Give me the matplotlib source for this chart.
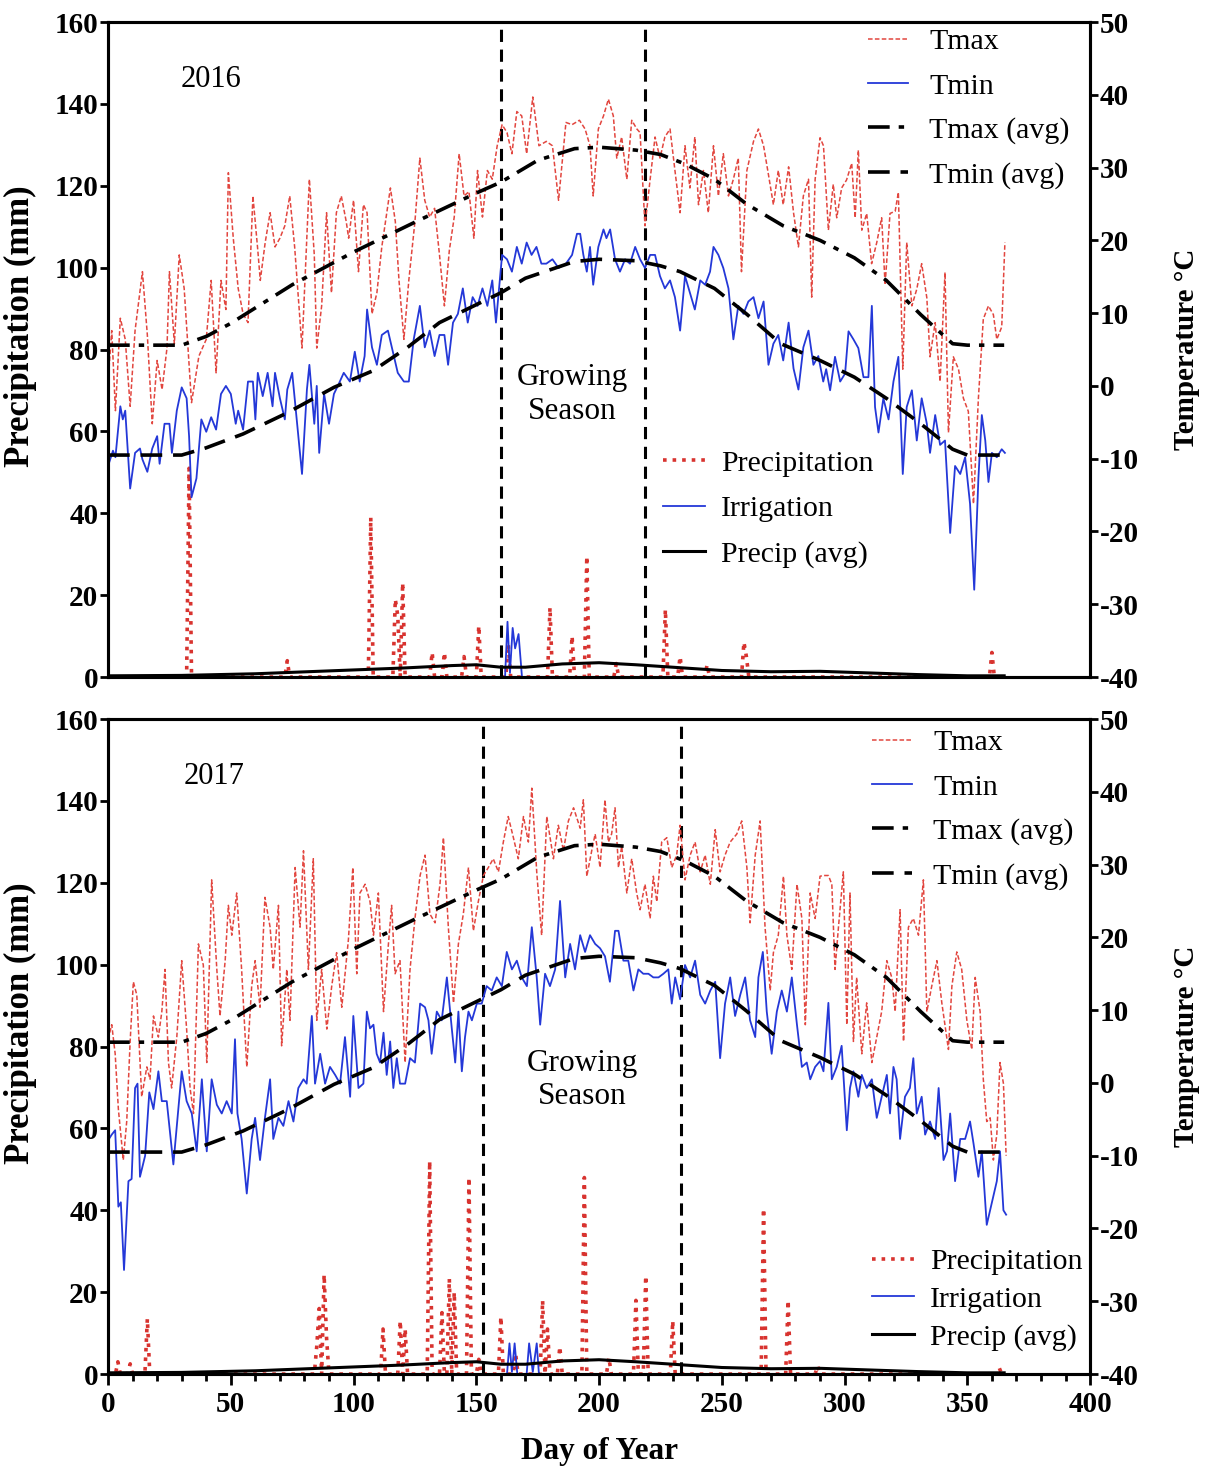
import numpy as np
import matplotlib
matplotlib.use("Agg")
import matplotlib.pyplot as plt
from matplotlib.lines import Line2D
from matplotlib.ticker import MultipleLocator

plt.rcParams['font.family'] = ['Liberation Serif', 'DejaVu Serif']
plt.rcParams['axes.unicode_minus'] = False

# ---------------- 2016 ----------------
tmax16_day = [0, 1.5, 3, 5, 7, 9, 11, 14, 16, 18, 20, 22, 24, 25, 27, 29, 31, 34, 37, 40, 42, 44, 46, 48, 49, 51, 53, 55, 57, 59,
              61, 62, 64, 66, 68, 70, 72, 74, 76, 79, 82, 84, 85, 87, 89, 91, 93, 95, 97, 98, 100, 102, 104, 105.5, 107.5,
              109.5, 111.5, 115, 117, 118.5, 120.5, 122.5, 125, 127, 129, 131, 133, 135, 137, 139, 141, 143, 145, 147, 149,
              150.5, 152.5, 154.5, 156.5, 158.5, 160.5, 162.5, 164.5, 166.5, 168.5, 170.5, 173, 175.5, 178.5, 181, 183.5,
              186.5, 189, 192, 194.3, 196.3, 197.6, 199.7, 201.8, 203.8, 205.8, 207.2, 209.2, 211.3, 213.3, 215.4, 216.7,
              218.7, 220.8, 222.8, 224.8, 226.8, 228.9, 230.9, 233, 235, 237, 239, 240.5, 242.5, 244.5, 246.6, 248.6, 250.6,
              252.7, 254.7, 256.7, 258, 260.2, 262.9, 264.9, 267, 269, 271, 273, 275, 277.2, 279.2, 281.2, 283.2, 285.3,
              286.6, 288, 290, 291.4, 293.4, 295.4, 296.8, 298.8, 300.8, 302.9, 304.3, 305.6, 307, 309, 311, 313.1, 315.1,
              316.5, 318.5, 320.6, 321.9, 323.7, 325.3, 327.4, 329.4, 331.4, 333.5, 334.8, 336.9, 338.9, 340.9, 342.3,
              344.3, 346.4, 348.4, 350.4, 352.5, 354.5, 356.5, 358.6, 360.6, 362, 364, 365.3]
tmax16 = [0.6, 7.6, -3.4, 9.3, 6.4, -2.8, 7.6, 15.7, 7.0, -5.2, 3.5, -0.5, 5.2, 15.7, 5.8, 18.0, 13.4, -2.3, 4.1, 6.4, 14.5, 1.8,
          14.5, 10.5, 29.3, 20.3, 13.4, 9.9, 8.7, 26.1, 18.6, 14.5, 19.7, 23.8, 19.1, 20.3, 22.0, 26.1, 19.1, 5.2, 28.4, 18.0,
          5.2, 11.0, 23.8, 12.8, 23.8, 26.1, 22.6, 20.3, 25.5, 15.7, 24.9, 23.8, 9.9, 12.8, 19.1, 27.2, 22.6, 14.5, 6.4, 14.5,
          22.6, 31.3, 25.5, 23.2, 24.4, 18.0, 11.0, 18.6, 23.2, 31.9, 26.1, 26.7, 20.3, 29.6, 23.2, 29.6, 28.4, 33.0, 35.9,
          34.8, 31.9, 37.7, 37.1, 31.9, 39.7, 33.0, 33.6, 33.0, 25.5, 36.2, 35.9, 36.5, 35.3, 33.0, 26.1, 35.3, 37.1, 39.4,
          37.1, 31.3, 34.2, 28.4, 36.5, 35.3, 34.8, 22.0, 28.4, 34.2, 31.3, 34.2, 35.3, 29.6, 23.8, 33.0, 27.2, 34.2, 24.9,
          29.6, 23.8, 33.0, 26.1, 31.9, 26.1, 28.4, 31.3, 15.7, 29.6, 33.6, 35.3, 33.0, 29.0, 24.9, 29.6, 24.9, 30.1, 23.8,
          19.1, 26.1, 28.4, 12.2, 28.4, 34.1, 33.0, 21.4, 27.7, 23.1, 27.2, 28.3, 30.6, 23.1, 32.4, 21.4, 23.7, 16.8, 19.7,
          23.1, 13.9, 23.7, 24.0, 26.6, 2.3, 19.7, 11.0, 13.3, 16.8, 12.1, 4.0, 8.7, 0.6, 15.6, -6.4, 4.0, 2.3, -1.7, -3.5,
          -16.2, -1.7, 9.2, 11.0, 9.8, 6.4, 8.1, 19.7]

tmin16_day = [0, 2, 3, 5, 6, 7, 9, 11, 13, 14, 16, 18, 20, 21, 23, 25, 26, 28, 30, 32, 33, 34, 36, 38, 40, 42, 44, 46, 48, 50,
              52, 53, 55, 57, 59, 60, 61, 63, 65, 67, 68, 70, 72, 73, 75, 77, 79, 81, 82, 84, 85, 86, 88, 90, 92, 94, 96,
              98.5, 100.5, 102.5, 104.5, 105.5, 107.5, 109.5, 111.5, 114, 116, 118, 120.5, 122.5, 124.5, 127, 129, 131, 133,
              135, 137, 138.5, 140.5, 142.5, 144.5, 146.5, 148.5, 150.5, 152.5, 154.5, 156.5, 158, 160.5, 162.5, 164.5,
              166.5, 168.5, 170.5, 172.5, 174.5, 176.5, 178.5, 181, 183.5, 186.5, 189, 191, 192.3, 193.6, 195, 196.3, 197.6,
              199.7, 201.8, 203, 204.5, 206.5, 208.5, 210.6, 212.6, 214.7, 216.7, 218.7, 220.8, 222.8, 224.8, 226.8, 228.9,
              230.9, 233, 235, 237, 239, 241.2, 243.2, 245.2, 246.6, 248.6, 250.6, 252.7, 254.7, 256.7, 258.8, 260.8, 262.9,
              264.9, 267, 269, 271, 273, 275, 277.2, 279.2, 281.2, 283.2, 285.3, 287.3, 289.3, 291.3, 292.5, 294.1, 296.1,
              298.2, 300.2, 301.6, 303.6, 305.6, 307.7, 309.7, 311.1, 312.4, 313.8, 315.8, 317.9, 319.9, 321.9, 323.7,
              325.3, 327.4, 329.4, 331.4, 333.5, 334.8, 336.9, 338.9, 340.9, 343, 345, 347.1, 349.1, 351.1, 352.8, 354.5,
              355.9, 357.3, 358.6, 360, 362, 364, 365.3]
tmin16 = [-11.0, -8.9, -9.8, -2.8, -4.6, -3.4, -14.1, -9.2, -8.6, -10.1, -11.8, -8.6, -6.9, -10.7, -5.2, -5.2, -9.2, -3.4, -0.2,
          -1.7, -6.9, -15.3, -12.7, -4.6, -6.3, -4.3, -6.0, -1.1, 0.0, -1.1, -5.2, -3.4, -6.0, 0.6, 0.6, -4.6, 1.8, -1.4, 1.8,
          -2.8, 1.8, -1.7, -4.6, -0.5, 1.8, -5.2, -12.1, -0.5, 2.9, -5.2, 0.0, -9.2, -1.1, -5.2, -1.1, 0.3, 1.8, 0.6, 4.7, 0.6,
          4.1, 10.5, 5.3, 2.9, 7.0, 7.6, 4.7, 1.8, 0.6, 0.6, 6.4, 11.0, 5.3, 7.6, 4.1, 7.0, 7.0, 2.9, 8.7, 9.9, 13.4, 8.7,
          12.2, 11.0, 13.4, 11.0, 14.5, 8.7, 18.0, 17.4, 15.7, 19.1, 16.8, 19.7, 18.0, 19.1, 16.8, 16.8, 17.4, 16.2, 16.8,
          18.0, 20.9, 20.9, 18.0, 15.7, 19.1, 13.9, 19.1, 21.5, 20.3, 21.5, 17.4, 15.7, 17.4, 16.8, 19.1, 17.4, 16.2, 18.0,
          18.0, 15.1, 13.4, 14.5, 12.2, 7.6, 15.1, 12.8, 10.5, 14.5, 13.9, 15.7, 19.1, 18.0, 16.2, 13.4, 6.4, 11.0, 9.9,
          11.6, 12.2, 9.3, 11.6, 2.9, 5.8, 7.0, 3.5, 8.7, 2.4, -0.5, 5.3, 7.6, 2.9, 4.1, 0.6, 2.3, -0.6, 4.0, 0.6, 1.7, 7.5,
          6.4, 5.2, 1.2, 1.2, 11.0, -2.9, -6.4, -1.7, -4.6, 0.6, 4.0, -12.1, -2.9, -0.6, -7.5, -1.7, -5.2, -9.2, -4.0, -8.1,
          -7.5, -20.2, -11.0, -12.1, -9.8, -16.2, -28.0, -12.7, -4.0, -7.5, -13.2, -9.2, -9.8, -8.7, -9.2]

precip16_day = [33, 73, 107, 117, 118, 120, 132, 137, 145, 151, 163, 180, 189, 195, 207, 227, 233, 244, 259, 260, 360]
precip16 = [51, 4, 39, 19, 15, 23, 6, 6, 5, 12.5, 8, 17, 10, 29.5, 3.3, 16.5, 5, 3, 8.5, 5, 6]

irrig16_day = [161.7, 162.7, 163.7, 164.8, 165.8, 167.2, 168.6]
irrig16 = [0, 13.5, 1, 12, 7, 10.5, 0]

season16 = [160, 218.5]

# ---------------- 2017 ----------------
tmax17_day = [0, 1.5, 2.9, 4.2, 6.2, 7.6, 9, 10.3, 11.7, 13.7, 15.8, 17.1, 18.5, 20.5, 21.9, 23.2, 24.6, 25.9, 28, 30, 32, 33.4,
              34.8, 36.8, 38.8, 40.2, 42.2, 44.3, 45.6, 47.7, 49, 50.4, 52.4, 54.4, 56.5, 58.5, 59.9, 61.9, 63.9, 66, 67.3,
              69.4, 70.7, 72.8, 74.1, 76.2, 78.2, 79.6, 81.6, 83.6, 85, 87, 89.1, 91.1, 93.1, 95.2, 97.9, 99.7, 101.3, 102.6,
              104.7, 106.7, 108.1, 110.1, 112.2, 114.2, 115.5, 116.9, 118.9, 121, 123, 125, 127.1, 129.1, 131.1, 133.2,
              135.2, 136.6, 138.6, 140.7, 142.7, 144.7, 146.8, 148.8, 150.8, 152.9, 154.9, 156.9, 159, 161, 163, 165.1,
              167.1, 169.2, 171.2, 172.6, 174.6, 176.6, 178.7, 181.4, 183.4, 185.5, 187.5, 189.6, 192.3, 193.6, 195, 197,
              198.4, 200.4, 202.4, 203.8, 205.1, 206.5, 207.9, 209.2, 211.3, 213.3, 215.3, 216.7, 218.7, 220.8, 222.1,
              223.5, 225.5, 227.6, 229.6, 231.6, 233, 235, 237.1, 239.1, 241.2, 243.2, 245.3, 247.3, 249.3, 251.3, 253.4,
              256.1, 258.1, 260.2, 261.5, 263.6, 265.6, 267.6, 269.7, 271, 273, 275.1, 276.5, 278.5, 280.6, 282.6, 284, 286,
              288, 290, 291.4, 293.4, 294.8, 296.1, 297.5, 299.5, 300.9, 302.2, 303.6, 304.9, 307, 309, 311.1, 313.1, 315.1,
              317.2, 319.2, 320.6, 322.6, 324, 326, 328, 330.1, 332.1, 333.5, 335.5, 337.6, 339.6, 342.3, 343.7, 345.7,
              347.7, 349.8, 351.8, 353.2, 355.2, 356.5, 357.9, 359.3, 360.6, 362, 363.3, 364.7, 365.8]
tmax17 = [6.0, 8.0, 4.0, -3.6, -10.6, -5.3, 5.7, 13.9, 12.1, -1.9, 2.2, 0.5, 9.2, 6.3, 9.8, 15.6, 2.8, -0.7, 6.3, 16.8, 7.4, -0.7,
          -4.2, 19.1, 16.2, 2.8, 27.9, 15.6, 9.2, 16.8, 24.4, 20.3, 26.1, 15.6, 2.2, 13.3, 16.8, 10.4, 25.5, 21.4, 15.6, 24.4,
          5.1, 15.6, 8.6, 29.6, 21.4, 31.9, 15.6, 30.8, 8.6, 15.6, 7.4, 13.3, 17.9, 10.4, 19.7, 29.6, 15.0, 26.1, 27.3, 24.9,
          20.3, 26.1, 9.8, 19.1, 24.4, 15.0, 16.8, 2.8, 15.6, 22.6, 28.5, 31.3, 23.2, 22.0, 27.3, 33.7, 21.4, 11.0, 19.1,
          23.2, 29.6, 20.9, 24.9, 28.5, 29.6, 30.8, 29.0, 33.1, 36.6, 33.7, 30.8, 36.6, 33.1, 40.5, 29.0, 20.3, 36.6, 30.8,
          35.4, 31.9, 36.0, 37.8, 35.0, 38.9, 28.4, 31.9, 34.2, 29.6, 38.9, 33.1, 34.2, 37.8, 29.6, 32.5, 26.1, 30.8, 26.1,
          23.8, 27.3, 22.6, 28.4, 24.9, 33.1, 33.7, 29.6, 31.3, 35.4, 27.9, 31.3, 33.1, 29.0, 31.3, 27.3, 34.8, 29.0, 31.3,
          33.1, 34.2, 36.0, 29.6, 22.0, 31.3, 36.0, 21.4, 12.7, 17.9, 20.3, 28.4, 20.3, 15.6, 27.3, 22.6, 8.0, 26.1, 22.6,
          28.4, 28.5, 28.5, 27.3, 15.6, 21.4, 29.0, 8.0, 26.1, 5.7, 14.5, 4.0, 11.0, 2.8, 6.3, 9.8, 16.8, 14.5, 9.8, 23.8,
          5.7, 21.4, 22.6, 20.3, 27.9, 9.8, 13.3, 16.8, 11.0, 4.6, 13.3, 18.0, 15.6, 8.6, 4.6, 14.5, 9.8, 0.5, -5.3, -4.8,
          -10.6, -7.1, 2.8, -0.1, -10.0]

tmin17_day = [0, 1.5, 2.9, 4.2, 5.2, 6.5, 8.3, 9.6, 11, 12, 13, 15.1, 16.8, 18.5, 20.5, 21.9, 23.9, 26.6, 30, 32, 34.1, 36.1,
              38.2, 40.2, 42.2, 44.3, 46.3, 48.3, 50.4, 51.7, 52.7, 54.4, 56.5, 58.5, 59.9, 61.9, 63.9, 66, 67.3, 69.4, 71.4,
              73.5, 75.5, 77.5, 79.6, 80.9, 83, 84.3, 86.4, 88.4, 90.4, 92.5, 94.5, 96.5, 98.6, 99.9, 102, 104, 105.4,
              106.7, 108.1, 109.4, 110.8, 112.2, 113.5, 114.9, 116.2, 117.6, 118.9, 121, 123, 125, 127.1, 129.1, 130.5,
              131.8, 133.9, 135.9, 138, 140, 141.4, 142.7, 144.1, 145.4, 146.8, 148.2, 150.2, 152.2, 154.2, 156.3, 158.3,
              160.4, 162.4, 164.5, 166.5, 168.5, 170.6, 172.6, 174.6, 176, 178, 180, 182.1, 184.1, 186.2, 188.2, 190.2,
              192.3, 194.3, 196.3, 198.4, 200.4, 202.4, 204.4, 206.5, 207.9, 209.9, 211.9, 214, 216, 218, 220.1, 222.1,
              224.2, 226.2, 228.2, 229.6, 231, 233, 235, 237.1, 239.1, 241.2, 243.2, 245.3, 247.3, 249.3, 251.3, 253.4,
              255.4, 257.5, 259.5, 261.5, 263.6, 264.9, 266.7, 268.3, 270.3, 272.4, 274.4, 276.5, 278.5, 280.6, 282.6,
              284.6, 286, 288, 290, 291.4, 293.4, 294.8, 296.8, 298.8, 300.9, 302.2, 303.6, 305.6, 307, 309, 311.1, 313.1,
              315.1, 317.2, 318.5, 319.9, 321.2, 322.6, 324.6, 326.6, 328, 329.4, 331.4, 332.8, 334.8, 336.9, 338.3, 340.3,
              341.7, 343, 345, 347.1, 349.1, 351.1, 352.5, 354.5, 355.9, 357.9, 360, 362, 363.3, 364.7, 365.8]
tmin17 = [-7.9, -7.1, -6.5, -17.0, -16.4, -25.7, -13.5, -13.2, -0.7, -0.1, -12.9, -10.0, -1.3, -3.6, 1.6, -2.5, -2.5, -11.2, 1.6,
          -2.5, -4.2, -9.4, 0.5, -9.4, 0.5, -3.0, -4.2, -2.5, -4.2, 6.0, -4.2, -7.7, -15.2, -7.7, -4.8, -10.6, -4.8, 0.5, -7.7,
          -4.8, -5.9, -2.5, -5.3, -0.7, 0.5, -0.1, 9.2, -0.1, 4.0, -0.1, 2.2, 1.1, -0.1, 6.3, -1.9, 9.2, -0.7, -0.1, 9.8, 7.5,
          8.0, 4.0, 2.8, 6.9, 1.1, 5.7, -0.7, 3.4, -0.1, -0.1, 3.4, 2.8, 10.9, 10.4, 8.6, 4.0, 9.8, 8.6, 14.5, 7.5, 2.8, 9.8,
          1.6, 6.3, 9.8, 8.6, 10.9, 10.9, 13.3, 12.7, 14.5, 13.3, 18.0, 15.6, 16.8, 14.5, 13.3, 21.4, 14.5, 8.0, 15.0, 13.3,
          15.6, 25.0, 14.5, 19.1, 15.6, 20.3, 18.0, 20.3, 19.1, 18.5, 17.4, 13.9, 20.9, 20.9, 16.8, 16.8, 12.7, 15.6, 15.0,
          15.0, 14.5, 14.5, 15.0, 15.6, 10.9, 14.5, 11.5, 16.2, 14.5, 16.8, 12.1, 10.9, 12.7, 13.9, 3.4, 10.9, 14.5, 9.2,
          12.1, 14.5, 8.6, 6.3, 14.5, 18.0, 9.8, 4.0, 9.8, 12.7, 9.8, 14.5, 8.0, 2.2, 2.8, 0.5, 2.2, 3.0, 1.6, 11.0, 0.5, 2.2,
          5.1, -6.5, -0.7, 1.6, -1.9, 1.1, -0.7, 0.5, -4.8, -1.9, 1.1, -4.2, 2.2, 0.5, -7.7, -1.9, -0.7, 3.4, -4.2, -1.9,
          -7.1, -5.3, -7.7, -0.7, -10.6, -9.4, -4.2, -13.5, -7.7, -7.7, -5.3, -8.3, -12.9, -9.4, -19.5, -16.4, -13.5, -9.4,
          -17.5, -18.1]

precip17_day = [4, 9, 16, 85, 86, 88, 89, 112, 119, 121, 131, 136, 139, 141, 147, 151, 160, 166, 177, 179, 184, 194, 204,
                215, 219, 230, 267, 277, 289, 363]
precip17 = [3, 2.5, 13.5, 6.7, 16, 24.3, 8.8, 11, 13, 11, 52, 15, 23.3, 20, 48, 3.6, 14, 5, 18, 11, 6.7, 48, 4, 18, 24, 13,
            40.4, 18, 2, 1.5]

irrig17_day = [162.5, 163.5, 164.5, 165.6, 166.7, 170.5, 171.5, 173, 174.6, 175.5]
irrig17 = [0, 7.5, 0.5, 7.5, 0, 0, 7.5, 0.5, 7.5, 0]

season17 = [152.7, 233.4]

# long-term averages (same curves in both panels)
tmaxavg_day = [0, 30, 40, 50, 75, 100, 125, 150, 160, 175, 190, 200, 215, 225, 235, 247, 260, 275, 290, 304, 317, 331, 344,
               350, 365]
tmaxavg = [5.6, 5.6, 6.8, 8.6, 13.9, 18.4, 22.5, 26.5, 28.0, 31.0, 32.6, 32.8, 32.4, 31.8, 30.5, 28.4, 25.0, 22.0, 20.0,
           17.6, 14.5, 9.8, 5.8, 5.6, 5.6]
tminavg_day = [0, 30, 40, 55, 73, 92, 108, 122, 135, 149, 160, 170, 190, 200, 215, 225, 233, 247, 260, 274, 290, 304, 317,
               331, 344, 350, 365]
tminavg = [-9.5, -9.5, -8.5, -6.6, -3.7, -0.2, 2.1, 5.3, 8.7, 11.0, 12.8, 14.8, 17.1, 17.4, 17.2, 16.5, 15.7, 13.4, 9.9, 5.8,
           3.5, 1.2, -1.7, -5.2, -8.7, -9.5, -9.5]
pavg_day = [0, 30, 60, 90, 120, 140, 150, 160, 170, 185, 200, 215, 230, 250, 270, 290, 310, 330, 350, 365]
pavg = [0.3, 0.4, 0.8, 1.5, 2.2, 2.8, 3.0, 2.4, 2.4, 3.2, 3.5, 3.0, 2.4, 1.6, 1.3, 1.4, 1.0, 0.6, 0.3, 0.3]

days = np.arange(0, 366)

C_TMAX = '#e2463f'
C_TMIN = '#2438d8'
C_PREC = '#d8332f'

fig = plt.figure(figsize=(12.06, 14.68), dpi=100)

panels = [
    dict(rect=[0.0896, 0.5388, 0.8143, 0.4462], year='2016', tmax_d=tmax16_day, tmax=tmax16, tmin_d=tmin16_day, tmin=tmin16,
         p_d=precip16_day, p=precip16, i_d=irrig16_day, i=irrig16, season=season16,
         gs=(189, 69), yr=(42, 146), leg1=(0.774, 0.99, 0.58), leg2=(0.565, 0.347, 0.62)),
    dict(rect=[0.0896, 0.0640, 0.8143, 0.4462], year='2017', tmax_d=tmax17_day, tmax=tmax17, tmin_d=tmin17_day, tmin=tmin17,
         p_d=precip17_day, p=precip17, i_d=irrig17_day, i=irrig17, season=season17,
         gs=(193, 71.8), yr=(43, 146), leg1=(0.778, 0.984, 0.58), leg2=(0.778, 0.192, 0.36)),
]

for k, pn in enumerate(panels):
    ax = fig.add_axes(pn['rect'])
    ax2 = ax.twinx()

    rain = np.zeros(len(days))
    rain[np.array(pn['p_d'])] = pn['p']
    ax.plot(days, rain, ':', color=C_PREC, lw=2.6)
    ax.plot(pn['i_d'], pn['i'], '-', color=C_TMIN, lw=1.3)
    ax.plot(pavg_day, pavg, '-', color='black', lw=2.2)
    for d in pn['season']:
        ax.axvline(d, color='black', ls='--', lw=2.2, dashes=(4, 2.5))

    ax2.plot(pn['tmax_d'], pn['tmax'], '--', color=C_TMAX, lw=1.1, dashes=(3, 1.5))
    ax2.plot(pn['tmin_d'], pn['tmin'], '-', color=C_TMIN, lw=1.3)
    ax2.plot(tmaxavg_day, tmaxavg, color='black', lw=2.6, dashes=(6, 2.5, 1.5, 2.5))
    ax2.plot(tminavg_day, tminavg, color='black', lw=2.6, dashes=(6, 3))

    ax.set_xlim(0, 400)
    ax.set_ylim(0, 160)
    ax2.set_ylim(-40, 50)
    ax.set_yticks(np.arange(0, 161, 20))
    ax2.set_yticks(np.arange(-40, 51, 10))
    ax.xaxis.set_major_locator(MultipleLocator(50))
    ax.xaxis.set_minor_locator(MultipleLocator(10))

    for a in (ax, ax2):
        for s in a.spines.values():
            s.set_linewidth(2.2)
        a.tick_params(axis='y', direction='out', length=6, width=2, labelsize=21, pad=1)
        for lab in a.get_yticklabels():
            lab.set_fontweight('bold')

    if k == 0:
        ax.tick_params(axis='x', bottom=False, labelbottom=False, which='both')
    else:
        ax.tick_params(axis='x', which='major', direction='out', length=8, width=2, labelsize=21, pad=4)
        ax.tick_params(axis='x', which='minor', direction='out', length=5, width=2)
        for lab in ax.get_xticklabels():
            lab.set_fontweight('bold')
        ax.set_xlabel('Day of Year', fontsize=22.5, fontweight='bold', labelpad=14)

    ax.set_ylabel('Precipitation (mm)', fontsize=25, fontweight='bold')
    ax.yaxis.set_label_coords(-0.072, 0.535)
    ax2.set_ylabel('Temperature °C', fontsize=21, fontweight='bold')
    ax2.yaxis.set_label_coords(1.0845, 0.5)

    ax2.text(pn['yr'][0], -40 + 0.5625 * pn['yr'][1], pn['year'], fontsize=22, ha='center', va='center')
    ax2.text(pn['gs'][0], -40 + 0.5625 * pn['gs'][1], 'Growing\nSeason', fontsize=22.5, ha='center', va='center',
             linespacing=1.2)

    h1 = [Line2D([], [], ls='--', color=C_TMAX, lw=1.1, dashes=(3, 1.5)),
          Line2D([], [], ls='-', color=C_TMIN, lw=1.3),
          Line2D([], [], color='black', lw=2.6, dashes=(6, 2.5, 1.5, 2.5)),
          Line2D([], [], color='black', lw=2.6, dashes=(6, 3))]
    l1 = ax2.legend(h1, ['Tmax', 'Tmin', 'Tmax (avg)', 'Tmin (avg)'], loc='upper left',
                    bbox_to_anchor=(pn['leg1'][0], pn['leg1'][1]), frameon=False, fontsize=21.5,
                    borderpad=0, borderaxespad=0, handlelength=1.35, handletextpad=0.7,
                    labelspacing=pn['leg1'][2])
    ax2.add_artist(l1)
    h2 = [Line2D([], [], ls=':', color=C_PREC, lw=2.6),
          Line2D([], [], ls='-', color=C_TMIN, lw=1.3),
          Line2D([], [], ls='-', color='black', lw=2.2)]
    ax2.legend(h2, ['Precipitation', 'Irrigation', 'Precip (avg)'], loc='upper left',
               bbox_to_anchor=(pn['leg2'][0], pn['leg2'][1]), frameon=False, fontsize=21.5,
               borderpad=0, borderaxespad=0, handlelength=1.4, handletextpad=0.55,
               labelspacing=pn['leg2'][2])

fig.savefig('out.png', dpi=100)
